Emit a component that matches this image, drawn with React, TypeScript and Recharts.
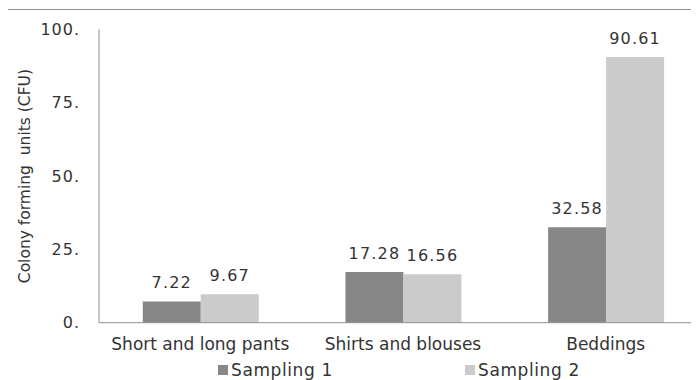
import { BarChart, Bar, XAxis, YAxis, LabelList, Label } from 'recharts';

const categories = ['Short and long pants', 'Shirts and blouses', 'Beddings'];
const sampling1 = [7.22, 17.28, 32.58];
const sampling2 = [9.67, 16.56, 90.61];
const yTicks = [0, 25, 50, 75, 100];
const seriesNames = ['Sampling 1', 'Sampling 2'];

const data = categories.map((name, i) => ({ name, s1: sampling1[i], s2: sampling2[i] }));

const FONT = '"DejaVu Sans", Verdana, sans-serif';
const TEXT = '#333333';
const DARK = '#878787';
const LIGHT = '#cbcbcb';
const FRAME = '#8f8f8f';

const valueLabel = { fill: TEXT, fontSize: 16, fontFamily: FONT, letterSpacing: 1.2 };

// legend entries sit under the plot, roughly centred on the middle category
const legendItems = [
  { name: seriesNames[0], color: DARK, left: 210 },
  { name: seriesNames[1], color: LIGHT, left: 457 },
];

export default function App() {
  return (
    <div
      style={{
        position: 'relative',
        marginLeft: -1,
        marginTop: 1,
        width: 692,
        height: 370,
        overflow: 'hidden',
        borderTop: `1px solid ${FRAME}`,
        borderLeft: `1px solid ${FRAME}`,
        fontFamily: FONT,
      }}
    >
      <BarChart
        width={699}
        height={370}
        data={data}
        margin={{ top: 19.5, right: 0, bottom: 27.3, left: 0 }}
        barCategoryGap="21.6%"
        barGap={0}
      >
        <XAxis
          dataKey="name"
          height={30}
          tickLine={false}
          tickSize={0}
          tickMargin={15}
          axisLine={{ stroke: FRAME }}
          tick={{ fill: TEXT, fontSize: 17, fontFamily: FONT }}
          interval={0}
        />
        <YAxis
          width={91}
          domain={[0, 100]}
          ticks={yTicks}
          tickFormatter={(v) => `${v}.`}
          tickLine={false}
          tickSize={0}
          tickMargin={19}
          axisLine={{ stroke: FRAME }}
          tick={{ fill: TEXT, fontSize: 16, fontFamily: FONT, letterSpacing: 1 }}
        >
          <Label
            value={'Colony forming\u00a0 units (CFU)'}
            angle={-90}
            position="insideLeft"
            dx={11.5}
            fill={TEXT}
            fontSize={15.5}
            fontFamily={FONT}
            style={{ textAnchor: 'middle', fontSize: 15.5 }}
          />
        </YAxis>
        <Bar dataKey="s1" fill={DARK} isAnimationActive={false}>
          <LabelList dataKey="s1" position="top" offset={13.5} {...valueLabel} />
        </Bar>
        <Bar dataKey="s2" fill={LIGHT} isAnimationActive={false}>
          <LabelList dataKey="s2" position="top" offset={13.5} {...valueLabel} />
        </Bar>
      </BarChart>
      {legendItems.map((item) => (
        <div key={item.name}>
          <span style={{ position: 'absolute', left: item.left, top: 355, width: 10, height: 10, background: item.color }} />
          <span
            style={{
              position: 'absolute',
              left: item.left + 13,
              top: 351.6,
              fontSize: 17,
              lineHeight: '17px',
              letterSpacing: 0.6,
              color: TEXT,
              whiteSpace: 'nowrap',
            }}
          >
            {item.name}
          </span>
        </div>
      ))}
    </div>
  );
}
